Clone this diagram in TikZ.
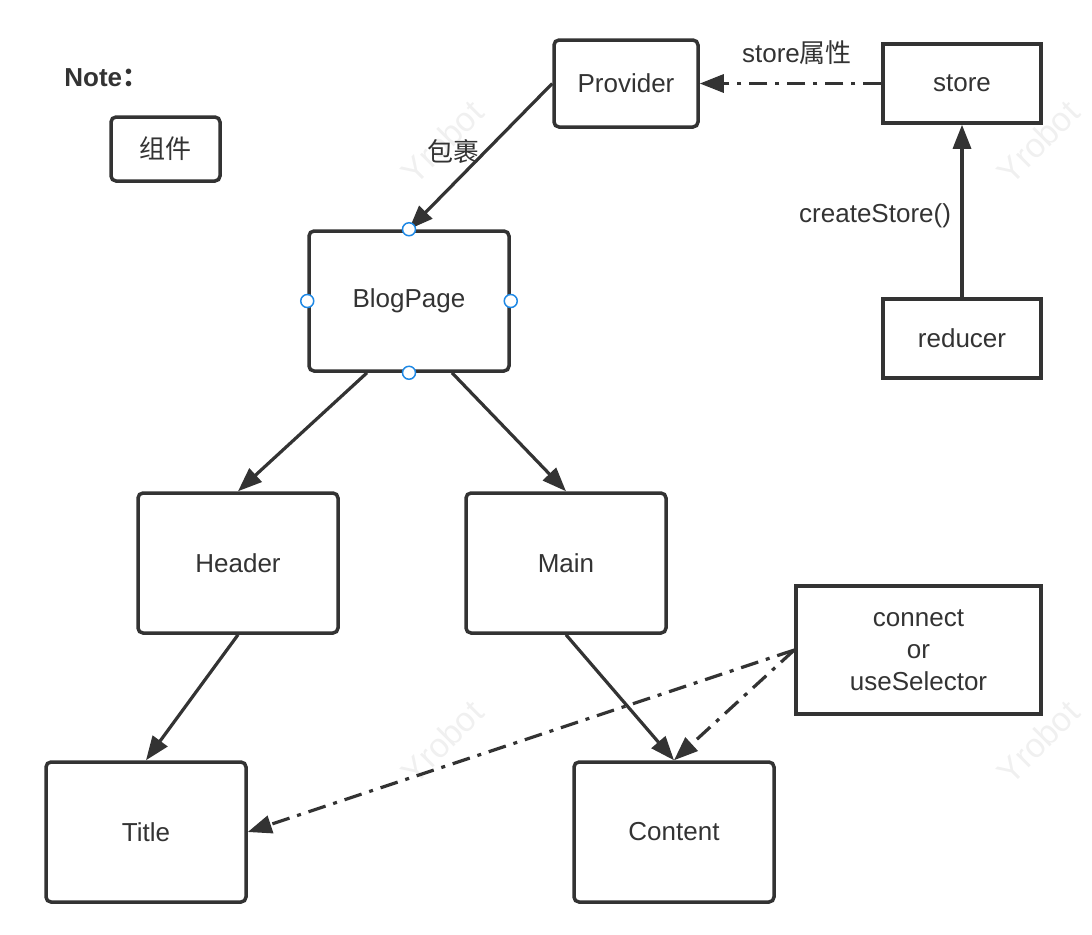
\documentclass[tikz,border=0pt]{standalone}
\usepackage{fontspec}
\setmainfont{Liberation Sans}
\newfontfamily\cjk{Noto Sans CJK SC}
\usetikzlibrary{arrows.meta}
\definecolor{ink}{HTML}{333333}
\definecolor{handleblue}{HTML}{1E88E5}
\begin{document}
\begin{tikzpicture}[x=0.5pt,y=-0.5pt,font=\fontsize{13}{16}\selectfont,comp/.style={shape=rectangle,draw=ink,line width=1.75pt,rounded corners=2.5pt,text=ink,inner sep=0pt,minimum width=100pt,minimum height=70pt},compS/.style={comp,minimum width=54.5pt,minimum height=32pt},compP/.style={comp,minimum width=72pt,minimum height=43.5pt},mod/.style={shape=rectangle,draw=ink,line width=1.75pt,text=ink,inner sep=0pt,minimum width=79pt,minimum height=39.5pt},modC/.style={mod,align=center,minimum width=122.5pt,minimum height=64pt},link/.style={draw=ink,line width=1.6pt,-{Triangle[length=12pt,width=9pt]}},linkD/.style={link,dash pattern=on 9pt off 4pt on 2pt off 4pt},lbl/.style={text=ink},handle/.style={shape=circle,draw=handleblue,fill=white,line width=0.75pt,minimum size=6.5pt,inner sep=0pt},wmk/.style={text=black!6,rotate=45,font=\fontsize{17}{17}\selectfont}]
\useasboundingbox (0,0) rectangle (1092,934);

\node[wmk] (W1) at (442,142) {Yrobot};
\node[wmk] (W2) at (1038,142) {Yrobot};
\node[wmk] (W3) at (442,742) {Yrobot};
\node[wmk] (W4) at (1038,742) {Yrobot};

\node[lbl,anchor=west,inner sep=0pt] (Note) at (64,78) {\bfseries Note{\cjk ：}};
\node[compS] (Legend) at (165.5,149) {\cjk 组件};

\node[compP] (Provider) at (626,83.5) {Provider};
\node[mod] (Store) at (962,83.5) {store};
\node[mod] (Reducer) at (962,338.5) {reducer};

\node[comp] (BlogPage) at (409,301) {BlogPage};
\node[comp] (Header) at (238,563) {Header};
\node[comp] (Main) at (566,563) {Main};
\node[comp] (Title) at (146,832) {Title};
\node[comp] (Content) at (674,832) {Content};
\node[modC] (Conn) at (918.5,650) {connect\\or\\useSelector};

\draw[linkD] (Store.west) -- (Provider.east);
\node[lbl] (StoreProp) at (797,53) {store{\cjk 属性}};
\draw[link] (Reducer.north) -- (Store.south);
\node[lbl,anchor=east] (Create) at (958,216) {createStore()};

\draw[link] (Provider.west) -- (BlogPage.north);
\node[lbl] (Wrap) at (453,152) {\cjk 包裹};
\draw[link] ([xshift=-21pt]BlogPage.south) -- (Header.north);
\draw[link] ([xshift=21.5pt]BlogPage.south) -- (Main.north);
\draw[link] (Header.south) -- (Title.north);
\draw[link] (Main.south) -- (Content.north);
\draw[linkD] (Conn.west) -- (Title.east);
\draw[linkD] (Conn.west) -- (Content.north);

\node[handle] (HN) at (BlogPage.north) {};
\node[handle] (HS) at (BlogPage.south) {};
\node[handle] (HW) at (BlogPage.west) {};
\node[handle] (HE) at (BlogPage.east) {};
\end{tikzpicture}
\end{document}
